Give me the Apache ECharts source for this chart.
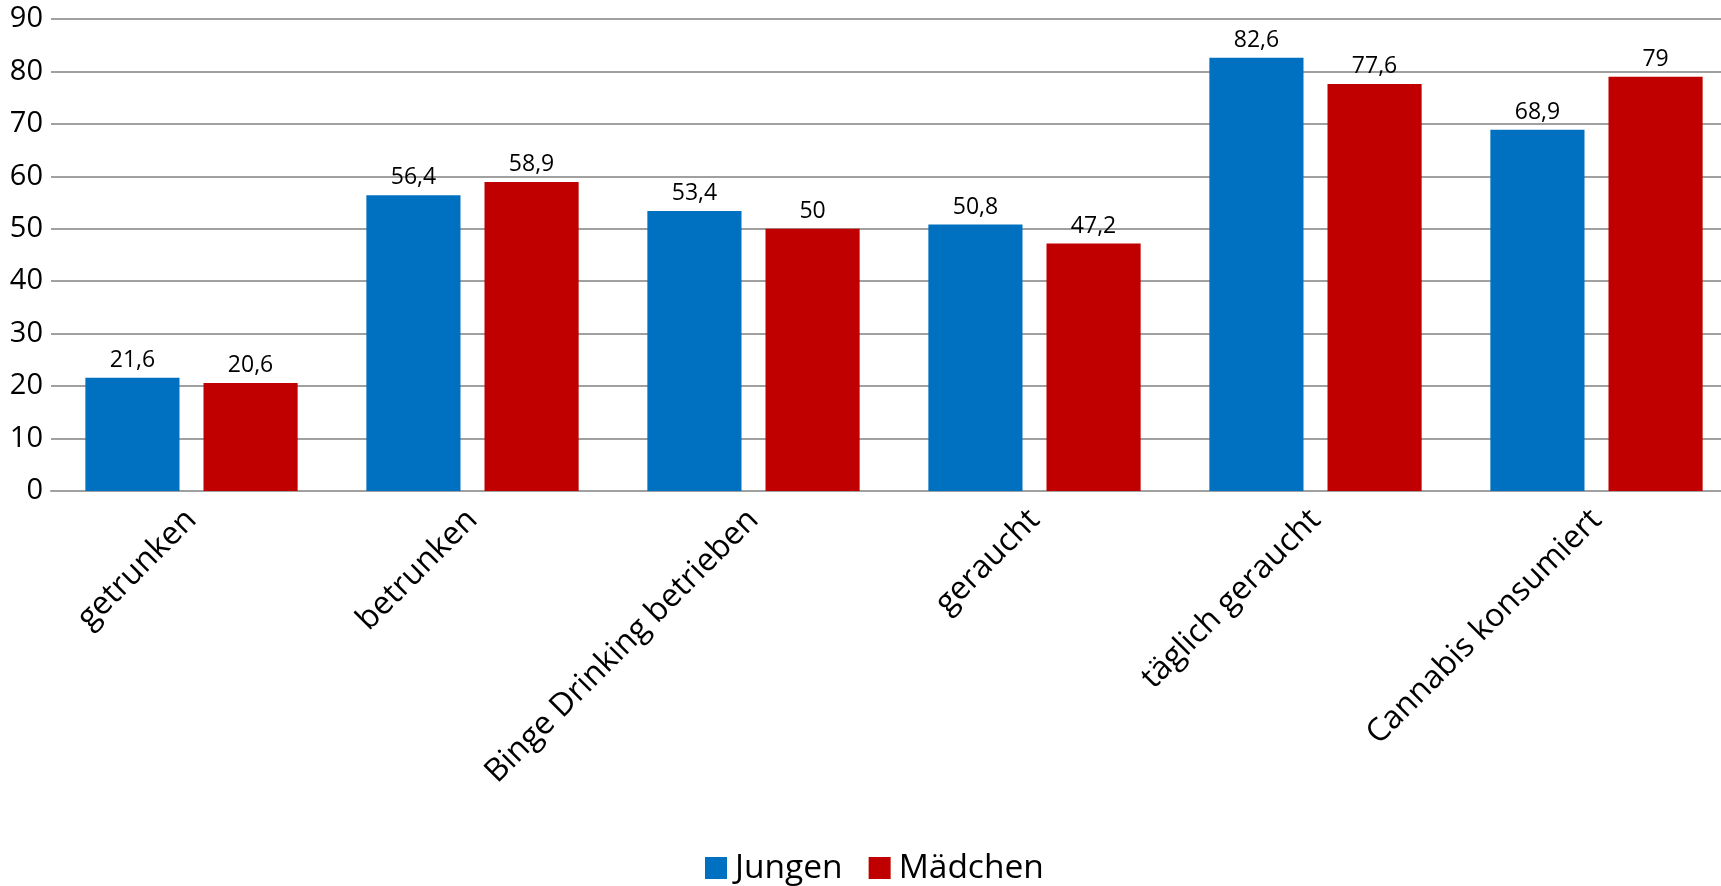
<!DOCTYPE html>
<html>
<head>
<meta charset="utf-8">
<script src="https://cdn.jsdelivr.net/npm/echarts@6/dist/echarts.min.js"></script>
<style>html,body{margin:0;padding:0;background:#fff}#c{width:1721px;height:886px}</style>
</head>
<body>
<div id="c"></div>
<script>
const categories = ["getrunken", "betrunken", "Binge Drinking betrieben", "geraucht", "täglich geraucht", "Cannabis konsumiert"];
const jungen = [21.6, 56.4, 53.4, 50.8, 82.6, 68.9];
const maedchen = [20.6, 58.9, 50, 47.2, 77.6, 79];
const seriesNames = ["Jungen", "Mädchen"];

const FONT = "Open Sans";
const chart = echarts.init(document.getElementById('c'), null, {renderer: 'canvas'});
const labelFmt = p => String(p.value).replace('.', ',');
chart.setOption({
  animation: false,
  textStyle: {fontFamily: FONT, color: '#000'},
  grid: {left: 51, width: 1686, top: 19, height: 472, containLabel: false, outerBoundsMode: 'none'},
  legend: {
    top: 851, left: 705, padding: 0,
    itemWidth: 22, itemHeight: 22, itemGap: 26,
    icon: 'rect',
    textStyle: {fontFamily: FONT, fontSize: 33.5, color: '#000', padding: [0, 0, 0, 3]},
    data: seriesNames
  },
  xAxis: {
    type: 'category', data: categories,
    axisTick: {show: false},
    axisLine: {show: true, lineStyle: {color: '#a0a0a0', width: 2}},
    axisLabel: {rotate: 45, fontFamily: FONT, fontSize: 32, color: '#000', margin: 24, interval: 0}
  },
  yAxis: {
    type: 'value', min: 0, max: 90, interval: 10,
    axisLine: {show: false}, axisTick: {show: false},
    splitLine: {lineStyle: {color: '#a0a0a0', width: 2}},
    axisLabel: {fontFamily: FONT, fontSize: 29, color: '#000', margin: 8}
  },
  series: [
    {name: seriesNames[0], type: 'bar', data: jungen, barWidth: '33.5%', barGap: '25.5%',
     itemStyle: {color: '#0070C0'},
     label: {show: true, position: 'top', distance: 6, fontFamily: FONT, fontSize: 23, color: '#000', formatter: labelFmt}},
    {name: seriesNames[1], type: 'bar', data: maedchen, barWidth: '33.5%',
     itemStyle: {color: '#C00000'},
     label: {show: true, position: 'top', distance: 6, fontFamily: FONT, fontSize: 23, color: '#000', formatter: labelFmt}}
  ]
});
</script>
</body>
</html>
